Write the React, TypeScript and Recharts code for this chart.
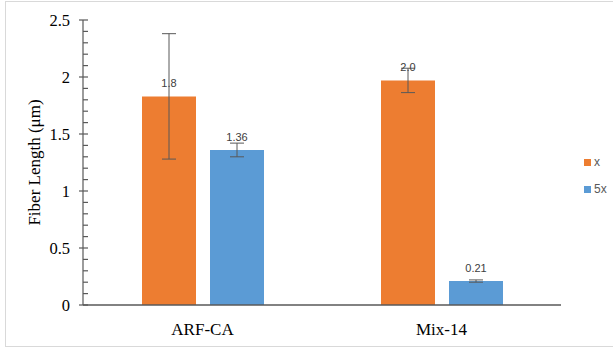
import React from 'react';
import { BarChart, Bar, XAxis, YAxis, ErrorBar, LabelList, Legend } from 'recharts';

const categories = ['ARF-CA', 'Mix-14'];
const seriesX = [1.83, 1.97];
const seriesXErr = [0.55, 0.107];
const seriesXLabels = ['1.8', '2.0'];
const series5x = [1.36, 0.21];
const series5xErr = [0.06, 0.01];
const series5xLabels = ['1.36', '0.21'];
const yTicks = [0, 0.1, 0.2, 0.3, 0.4, 0.5, 0.6, 0.7, 0.8, 0.9, 1, 1.1, 1.2, 1.3, 1.4, 1.5, 1.6, 1.7, 1.8, 1.9, 2, 2.1, 2.2, 2.3, 2.4, 2.5];
const yMajorTicks = [0, 0.5, 1, 1.5, 2, 2.5];
const seriesNames = ['x', '5x'];

const ORANGE = '#ED7D31';
const BLUE = '#5B9BD5';
const AXIS = '#595959';

const data = categories.map((c, i) => ({
  name: c,
  x: seriesX[i],
  xErr: seriesXErr[i],
  xLabel: seriesXLabels[i],
  v5x: series5x[i],
  v5xErr: series5xErr[i],
  v5xLabel: series5xLabels[i],
}));

const YTick = (props: any) => {
  const { x, y, payload } = props;
  const v = payload.value;
  const major = yMajorTicks.some((m) => Math.abs(m - v) < 1e-6);
  return (
    <g>
      {major ? (
        <>
          <line x1={x - 4} x2={x + 5} y1={y} y2={y} stroke={AXIS} strokeWidth={1.2} />
          <text x={x - 13} y={y} textAnchor="end" dominantBaseline="central" fontFamily="Liberation Serif" fontSize={16.5} fill="#000">
            {String(v)}
          </text>
        </>
      ) : (
        <line x1={x} x2={x + 5} y1={y} y2={y} stroke={AXIS} strokeWidth={1.2} />
      )}
    </g>
  );
};

const LegendContent = () => (
  <div style={{ fontFamily: 'Liberation Sans', fontSize: 12, color: '#595959' }}>
    {seriesNames.map((n, i) => (
      <div key={n} style={{ display: 'flex', alignItems: 'center', height: 14, marginBottom: i === 0 ? 13 : 0 }}>
        <span style={{ display: 'inline-block', width: 7, height: 7, background: i === 0 ? ORANGE : BLUE, marginRight: 3 }} />
        <span>{n}</span>
      </div>
    ))}
  </div>
);

export default function App() {
  return (
    <div style={{ position: 'absolute', left: 0, top: 0, width: 613, height: 348, overflow: 'hidden', background: '#fff' }}>
      <div style={{ position: 'absolute', left: 5, top: 1, width: 640, height: 344, border: '1px solid #d9d9d9' }} />
      <div style={{ position: 'absolute', left: 0, top: 0 }}>
        <BarChart
          width={613}
          height={348}
          data={data}
          margin={{ top: 20, right: 22, bottom: 0, left: 0 }}
          barCategoryGap={59}
          barGap={14}
        >
          <XAxis
            dataKey="name"
            height={43}
            tickLine={false}
            tickSize={0}
            tickMargin={18}
            axisLine={{ stroke: AXIS, strokeWidth: 1.5 }}
            tick={{ fontFamily: 'Liberation Serif', fontSize: 17, fill: '#000' }}
          />
          <YAxis
            width={83}
            domain={[0, 2.5]}
            ticks={yTicks}
            interval={0}
            tickLine={false}
            tickSize={0}
            tickMargin={0}
            axisLine={{ stroke: AXIS, strokeWidth: 1.2 }}
            tick={<YTick />}
            label={{
              content: (p: any) => {
                const vb = p.viewBox;
                const cx = vb.x + 34;
                const cy = vb.y + vb.height / 2;
                return (
                  <text
                    x={cx}
                    y={cy}
                    transform={`rotate(-90 ${cx} ${cy})`}
                    textAnchor="middle"
                    dominantBaseline="central"
                    fontFamily="Liberation Serif"
                    fontSize={17}
                    fill="#000"
                  >
                    Fiber Length (μm)
                  </text>
                );
              },
            }}
          />
          <Legend
            content={<LegendContent />}
            layout="vertical"
            verticalAlign="top"
            align="right"
            wrapperStyle={{ position: 'absolute', left: 584, top: 155, width: 30 }}
          />
          <Bar dataKey="x" name="x" fill={ORANGE} isAnimationActive={false}>
            <ErrorBar dataKey="xErr" width={7} stroke={AXIS} strokeWidth={1} />
            <LabelList dataKey="xLabel" position="top" offset={9} style={{ fontFamily: 'Liberation Sans', fontSize: 11, fill: '#404040' }} />
          </Bar>
          <Bar dataKey="v5x" name="5x" fill={BLUE} isAnimationActive={false}>
            <ErrorBar dataKey="v5xErr" width={7} stroke={AXIS} strokeWidth={1} />
            <LabelList dataKey="v5xLabel" position="top" offset={9} style={{ fontFamily: 'Liberation Sans', fontSize: 11, fill: '#404040' }} />
          </Bar>
        </BarChart>
      </div>
    </div>
  );
}
